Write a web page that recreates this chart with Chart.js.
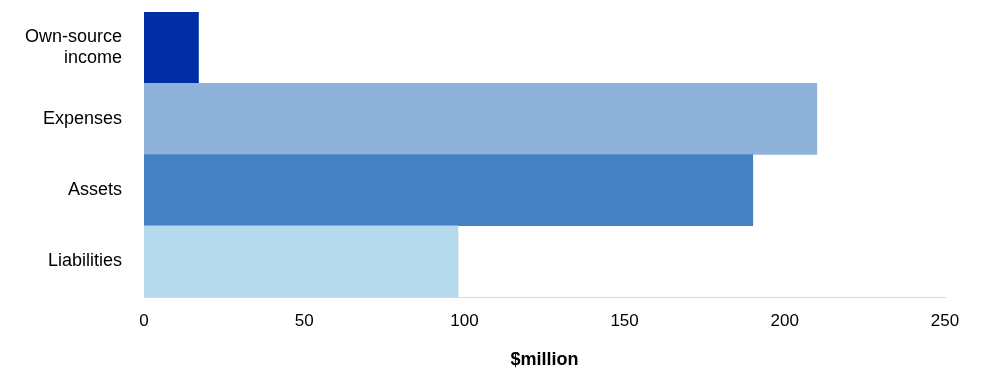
<!DOCTYPE html>
<html lang="en">
<head>
    <meta charset="UTF-8">
    <title>Financial summary</title>
    <style>
        html, body { margin: 0; padding: 0; background: #fff; }
        .chart-box { width: 985px; height: 381px; }
    </style>
</head>
<body>
    <div class="chart-box">
        <canvas id="chartdiv" width="985" height="381"></canvas>
    </div>
    <script src="https://cdn.jsdelivr.net/npm/chart.js"></script>
    <script>
    // data
    var categories = [['Own-source', 'income'], 'Expenses', 'Assets', 'Liabilities'];
    var values = [17, 210, 190, 98];
    var barColors = ['#002DA5', '#8FB2DA', '#4580C2', '#B5D9EC'];
    var xTicks = [0, 50, 100, 150, 200, 250];

    var font = 'Liberation Sans, Arial, sans-serif';

    new Chart(document.getElementById('chartdiv').getContext('2d'), {
        type: 'bar',
        data: {
            labels: categories,
            datasets: [{
                data: values,
                backgroundColor: barColors,
                borderWidth: 0,
                barPercentage: 1,
                categoryPercentage: 1
            }]
        },
        options: {
            indexAxis: 'y',
            responsive: false,
            animation: false,
            layout: { padding: { top: 12, right: 40, bottom: 0, left: 0 } },
            plugins: { legend: { display: false }, tooltip: { enabled: false } },
            scales: {
                x: {
                    min: 0,
                    max: 250,
                    afterBuildTicks: function (axis) {
                        axis.ticks = xTicks.map(function (v) { return { value: v }; });
                    },
                    afterFit: function (axis) { axis.height = 84; },
                    grid: { display: false, drawTicks: false },
                    border: { display: true, color: '#D9D9D9', width: 1 },
                    ticks: { color: '#000', padding: 14, font: { family: font, size: 17 } },
                    title: {
                        display: true,
                        text: '$million',
                        color: '#000',
                        padding: { top: 4, bottom: 10 },
                        font: { family: font, size: 18, weight: 'bold' }
                    }
                },
                y: {
                    z: 1,
                    afterFit: function (axis) {
                        axis.width = 144;
                        axis.paddingTop = 0;
                        axis.paddingBottom = 0;
                    },
                    grid: { display: false, drawTicks: false },
                    border: { display: true, color: '#D9D9D9', width: 1 },
                    ticks: { color: '#000', padding: 22, font: { family: font, size: 18, lineHeight: 1.15 } }
                }
            }
        }
    });
    </script>
</body>
</html>
